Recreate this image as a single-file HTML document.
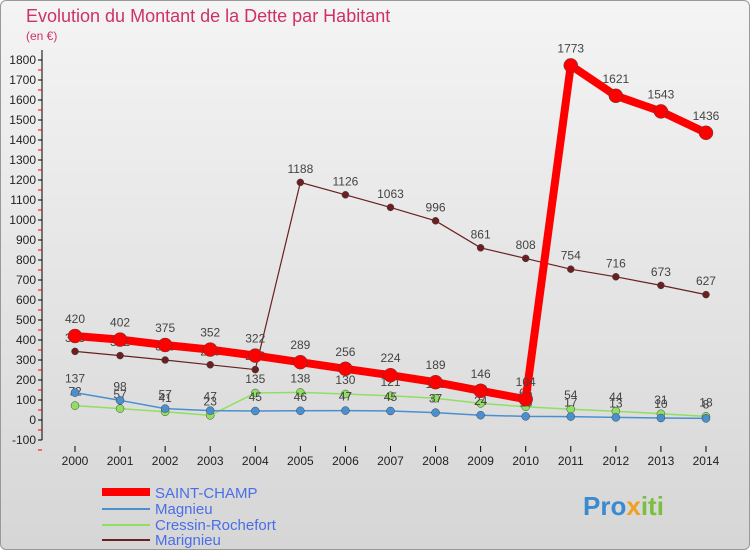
<!DOCTYPE html>
<html><head><meta charset="utf-8"><style>
body{margin:0;width:750px;height:550px;overflow:hidden;font-family:"Liberation Sans",sans-serif}
.frame{position:absolute;left:0;top:0;width:748px;height:548px;border:1px solid #999;border-radius:6px;background:linear-gradient(#f4f4f4,#d6d6d6)}
</style></head><body>
<div class="frame"></div>
<svg id="c" width="750" height="550" style="position:absolute;left:0;top:0">
<text x="26" y="22" font-size="18" fill="#d0306a">Evolution du Montant de la Dette par Habitant</text>
<text x="26" y="40" font-size="12" fill="#d0306a">(en €)</text>
<g id="axes"></g><g id="series"></g>
<g>
<line x1="102" y1="492" x2="150" y2="492" stroke="#f00" stroke-width="8"/><text x="155" y="498" font-size="15" fill="#4a6ee8">SAINT-CHAMP</text>
<line x1="102" y1="509" x2="150" y2="509" stroke="#4a90d0" stroke-width="2"/><text x="155" y="514" font-size="15" fill="#4a6ee8">Magnieu</text>
<line x1="102" y1="525" x2="150" y2="525" stroke="#8fe060" stroke-width="2"/><text x="155" y="530" font-size="15" fill="#4a6ee8">Cressin-Rochefort</text>
<line x1="102" y1="540" x2="150" y2="540" stroke="#6a2020" stroke-width="2"/><text x="155" y="545" font-size="15" fill="#4a6ee8">Marignieu</text>
</g>
<text x="583" y="515" font-size="26" font-weight="bold" fill="#3a8ad0">Pro<tspan fill="#f0a020">x</tspan><tspan fill="#7ac040">iti</tspan></text>
</svg>
<script>
const years=[2000,2001,2002,2003,2004,2005,2006,2007,2008,2009,2010,2011,2012,2013,2014];
const saint=[420,402,375,352,322,289,256,224,189,146,104,1773,1621,1543,1436];
const magnieu=[137,98,57,47,45,46,47,45,37,24,18,17,13,10,8];
const cressin=[72,57,41,23,135,138,130,121,109,83,66,54,44,31,18];
const marignieu=[343,322,300,276,252,1188,1126,1063,996,861,808,754,716,673,627];
const yTicks=[-100,0,100,200,300,400,500,600,700,800,900,1000,1100,1200,1300,1400,1500,1600,1700,1800];
const NS="http://www.w3.org/2000/svg";
const X=i=>75+i*45.07, Y=v=>420-v*0.2;
function mk(t,a,p){const e=document.createElementNS(NS,t);for(const k in a)e.setAttribute(k,a[k]);p.appendChild(e);return e;}
const ax=document.getElementById('axes'), sg=document.getElementById('series');
let l=mk('line',{x1:42,y1:50,x2:42,y2:440,stroke:'#000'},ax);


yTicks.forEach(v=>{
 mk('line',{x1:38,y1:Y(v),x2:42,y2:Y(v),stroke:'#000'},ax);
 mk('line',{x1:38,y1:Y(v)+10,x2:42,y2:Y(v)+10,stroke:'#f00'},ax);
 const t=mk('text',{x:36,y:Y(v)+4,'font-size':12,'text-anchor':'end',fill:'#222'},ax);t.textContent=v;
 
 
});
years.forEach((y,i)=>{
 mk('line',{x1:X(i),y1:446,x2:X(i),y2:452,stroke:'#000'},ax);
 const t=mk('text',{x:X(i),y:465,'font-size':12,'text-anchor':'middle',fill:'#222'},ax);t.textContent=y;
 
 
});
function series(d,col,w,r,name){
 const g=mk('g',{},sg);
 
 
 mk('polyline',{points:d.map((v,i)=>X(i)+','+Y(v)).join(' '),fill:'none',stroke:col,'stroke-width':w},g);
 d.forEach((v,i)=>{
  mk('circle',{cx:X(i),cy:Y(v),r:r,fill:col,stroke:'#444','stroke-width':0.5},g);
  const t=mk('text',{x:X(i),y:Y(v)-(r+6),'font-size':12,'text-anchor':'middle',fill:'#444'},g);t.textContent=v;
 });
}
series(cressin,'#8fe060',1.5,4,'series-cressin');
series(magnieu,'#4a90d0',1.5,4,'series-magnieu');
series(marignieu,'#6a2020',1.2,3.5,'series-marignieu');
series(saint,'#f00',8,7,'series-saint-champ');
</script>
</body></html>
